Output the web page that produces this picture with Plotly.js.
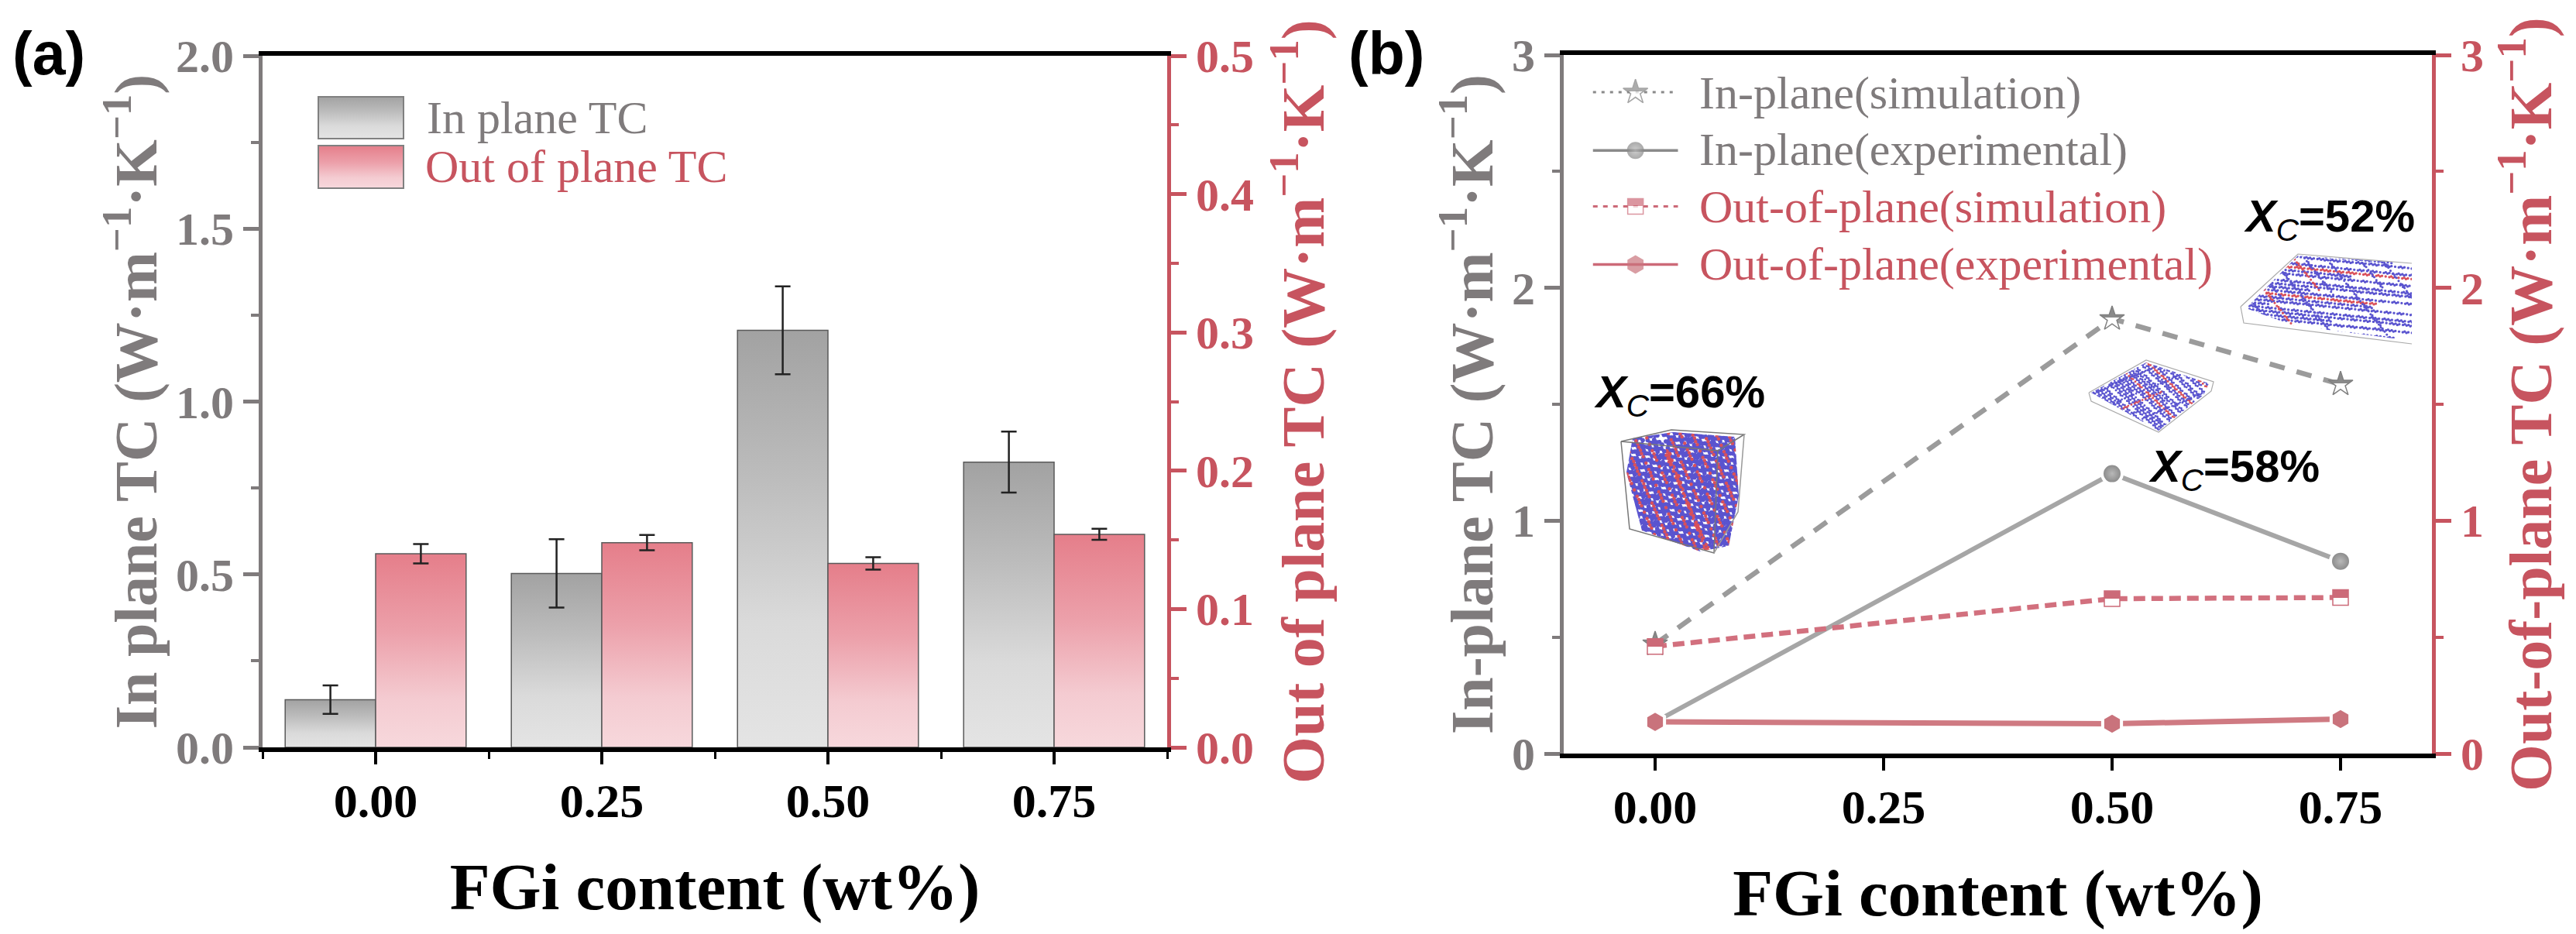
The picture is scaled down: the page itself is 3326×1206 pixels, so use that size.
<!DOCTYPE html>
<html>
<head>
<meta charset="utf-8">
<script src="https://cdn.plot.ly/plotly-3.0.1.min.js"></script>
<style>
html, body { margin: 0; padding: 0; background: #fff; }
</style>
</head>
<body>
<div id="myDiv" style="width:3326px;height:1206px;"></div>
<script>
// panel (a)
var barX = [0, 0.25, 0.5, 0.75];
var inPlane = [0.138, 0.503, 1.206, 0.825];
var inPlaneErr = [0.041, 0.099, 0.127, 0.088];
var outPlane = [0.14, 0.148, 0.133, 0.154];
var outPlaneErr = [0.007, 0.0055, 0.0045, 0.004];

// panel (b)
var lineX = [0, 0.5, 0.75];
var inSim = [0.47, 1.867, 1.586];
var inExp = [0.136, 1.202, 0.826];
var outSim = [0.46, 0.665, 0.67];
var outExp = [0.136, 0.128, 0.148];

// legend keys of panel (b), in the axis units of that panel
var keyX = [-0.068, -0.0215, 0.025];
var keyY = [2.84, 2.59, 2.35, 2.10];
var keyNames = ['In-plane(simulation)', 'In-plane(experimental)',
                'Out-of-plane(simulation)', 'Out-of-plane(experimental)'];

var W = 3326, H = 1206;
var GREY = '#7f7b7c', RED = '#c7545f', SERIF = 'Liberation Serif', SANS = 'Liberation Sans';

function px(x) { return x / W; }
function py(y) { return 1 - y / H; }

var unit = ' (W·m<sup>−1</sup>·K<sup>−1</sup>)';

var trace1 = {
    type: 'bar', name: 'barGrey', x: barX, y: inPlane, xaxis: 'x', yaxis: 'y',
    width: 0.1, offset: -0.1, showlegend: false,
    marker: { color: '#c8c8c8', line: { color: '#5a5a5a', width: 1.5 } },
    error_y: { type: 'data', array: inPlaneErr, color: '#222', thickness: 2.5, width: 10 }
};
var trace2 = {
    type: 'bar', name: 'barRed', x: barX, y: outPlane, xaxis: 'x', yaxis: 'y2',
    width: 0.1, offset: 0, showlegend: false,
    marker: { color: '#eda8b0', line: { color: '#5a5a5a', width: 1.5 } },
    error_y: { type: 'data', array: outPlaneErr, color: '#222', thickness: 2.5, width: 10 }
};

var starMarker = { symbol: 'star', color: '#888', line: { color: '#808080', width: 1.5 } };
var ballMarker = { symbol: 'circle', color: '#a0a0a0', line: { color: '#fff', width: 4 } };
var squareMarker = { symbol: 'square', color: '#cc6a78', line: { color: '#cc6a78', width: 1.5 } };
var hexMarker = { symbol: 'hexagon', color: '#c9737c', line: { color: '#fff', width: 4 } };

function lineTrace(name, y, axis, color, width, dash, marker, size) {
    return {
        type: 'scatter', mode: 'lines+markers', name: name, x: lineX, y: y,
        xaxis: 'x3', yaxis: axis, showlegend: false,
        line: { color: color, width: width, dash: dash },
        marker: Object.assign({}, marker, { size: size })
    };
}

function keyTrace(name, y, color, width, dash, marker, size) {
    var m = Object.assign({}, marker, { size: [0, size, 0], line: { color: marker.line.color, width: 0 } });
    if (name == 'keyStar' || name == 'keySquare') m.line = marker.line;
    return {
        type: 'scatter', mode: 'lines+markers', name: name, x: keyX, y: [y, y, y],
        xaxis: 'x3', yaxis: 'y3', showlegend: false,
        line: { color: color, width: width, dash: dash }, marker: m
    };
}

var data = [
    trace1, trace2,
    lineTrace('inSim', inSim, 'y3', '#9b9b9b', 6.5, '20px,16px', starMarker, 24),
    lineTrace('inExp', inExp, 'y3', '#a6a6a6', 6, 'solid', ballMarker, 26),
    lineTrace('outSim', outSim, 'y4', '#d2707e', 6.5, '15px,8px', squareMarker, 20),
    lineTrace('outExp', outExp, 'y4', '#cf7a82', 7, 'solid', hexMarker, 28),
    keyTrace('keyStar', keyY[0], '#8a8a8a', 3, '4px,7px', starMarker, 24),
    keyTrace('keyBall', keyY[1], '#8a8a8a', 3.5, 'solid', ballMarker, 22),
    keyTrace('keySquare', keyY[2], '#cc6a78', 3, '6px,7px', squareMarker, 20),
    keyTrace('keyHex', keyY[3], '#cc6a78', 3.5, 'solid', hexMarker, 24)
];

function xAxis(domain, anchor, range, minor) {
    var ax = {
        domain: domain, anchor: anchor, range: range, tickvals: [0, 0.25, 0.5, 0.75],
        tickformat: '.2f',
        showline: true, mirror: true, linecolor: '#000', linewidth: 6, zeroline: false, showgrid: false,
        ticks: 'outside', ticklen: 16, tickwidth: 4, tickcolor: '#000', ticklabelstandoff: -6,
        tickfont: { family: SERIF, size: 62, color: '#000', weight: 'bold' },
        title: { text: '<b>FGi content (wt%)</b>', font: { family: SERIF, size: 85, color: '#000' }, standoff: 49 }
    };
    if (minor) ax.minor = { dtick: 0.125, tick0: 0, ticks: 'outside', ticklen: 9, tickwidth: 3, tickcolor: '#000' };
    return ax;
}

function yAxis(opts) {
    var ax = {
        domain: opts.domain, anchor: opts.anchor, range: opts.range, side: opts.side,
        tickvals: opts.tickvals, tickformat: opts.tickformat,
        showline: true, linecolor: opts.color, linewidth: 5, zeroline: false, showgrid: false,
        ticks: 'outside', ticklen: 20, tickwidth: 5, tickcolor: opts.color,
        tickfont: { family: SERIF, size: 60, color: opts.color, weight: 'bold' },
        minor: { dtick: opts.minorStep, tick0: opts.minorStart, ticks: 'outside', ticklen: 10, tickwidth: 4, tickcolor: opts.color },
        title: { text: '<b>' + opts.title + '</b>', font: { family: SERIF, size: 78, color: opts.color }, standoff: opts.standoff }
    };
    if (opts.overlaying) ax.overlaying = opts.overlaying;
    return ax;
}

var domA = [px(339), px(1507)], domAy = [py(965), py(72)];
var domB = [px(2019), px(3140)], domBy = [py(973), py(71)];

var annotations = [
    { text: '<b>(a)</b>', x: px(63), y: py(69), font: { family: SANS, size: 77, color: '#000' } },
    { text: '<b>(b)</b>', x: px(1790), y: py(69), font: { family: SANS, size: 77, color: '#000' } },
    { text: 'In plane TC', x: px(550), y: py(152), xanchor: 'left', font: { family: SERIF, size: 60, color: GREY } },
    { text: 'Out of plane TC', x: px(548), y: py(215), xanchor: 'left', font: { family: SERIF, size: 60, color: RED } },
    { text: '<b><i>X</i></b><sub><i>C</i></sub><b>=66%</b>', x: px(2168), y: py(510), font: { family: SANS, size: 58, color: '#000' } },
    { text: '<b><i>X</i></b><sub><i>C</i></sub><b>=58%</b>', x: px(2884), y: py(606), font: { family: SANS, size: 58, color: '#000' } },
    { text: '<b><i>X</i></b><sub><i>C</i></sub><b>=52%</b>', x: px(3007), y: py(283), font: { family: SANS, size: 58, color: '#000' } }
];
keyNames.forEach(function (name, i) {
    annotations.push({
        text: name, x: px(2193), y: py([120, 193, 267, 341][i]), xanchor: 'left',
        font: { family: SERIF, size: 60, color: i < 2 ? GREY : RED }
    });
});
annotations.forEach(function (a) {
    a.xref = 'paper'; a.yref = 'paper'; a.showarrow = false; a.borderpad = 0;
    a.xanchor = a.xanchor || 'center'; a.yanchor = 'middle';
});

// paper-referenced shape from pixel points
function poly(points, fill, stroke, width) {
    var d = points.map(function (p, i) {
        return (i ? 'L' : 'M') + px(p[0]) + ',' + py(p[1]);
    }).join(' ');
    return {
        type: 'path', xref: 'paper', yref: 'paper', path: d + (fill ? ' Z' : ''),
        fillcolor: fill || 'rgba(0,0,0,0)', line: { color: stroke || 'rgba(0,0,0,0)', width: width || 0 }
    };
}

var shapes = [
    poly([[411, 125], [521, 125], [521, 179], [411, 179]], '#c8c8c8', '#808080', 2),
    poly([[411, 188], [521, 188], [521, 243], [411, 243]], '#eda8b0', '#808080', 2),
    // wire boxes of the three small atom pictures
    poly([[2093, 570], [2218, 582], [2213, 714], [2104, 683], [2093, 570]], null, '#777', 1.5),
    poly([[2093, 570], [2158, 555], [2252, 561], [2218, 582]], null, '#777', 1.5),
    poly([[2252, 561], [2244, 661], [2213, 714]], null, '#999', 1.5),
    poly([[2697, 507], [2771, 465], [2858, 493], [2855, 505], [2787, 558], [2700, 518], [2697, 507]], null, '#aaa', 1.2),
    poly([[2893, 396], [2967, 328], [3114, 340]], null, '#aaa', 1.2),
    poly([[2893, 396], [2897, 417], [3114, 444]], null, '#aaa', 1.2)
];

// The small atom pictures are decoration, not data: chains of blue and red beads on a canvas
function beadPicture(box, clip, families) {
    var scale = 2;
    var c = document.createElement('canvas');
    c.width = (box[2] - box[0]) * scale;
    c.height = (box[3] - box[1]) * scale;
    var ctx = c.getContext('2d');
    ctx.scale(scale, scale);
    ctx.translate(-box[0], -box[1]);
    ctx.beginPath();
    clip.forEach(function (p, i) { if (i) ctx.lineTo(p[0], p[1]); else ctx.moveTo(p[0], p[1]); });
    ctx.closePath();
    ctx.clip();
    var cx = (box[0] + box[2]) / 2, cy = (box[1] + box[3]) / 2;
    var reach = Math.max(box[2] - box[0], box[3] - box[1]);
    families.forEach(function (f) {
        var ux = Math.cos(f.angle), uy = Math.sin(f.angle);
        var n = Math.ceil(reach / f.gap);
        for (var i = -n; i <= n; i++) {
            var ox = cx - uy * i * f.gap, oy = cy + ux * i * f.gap;
            // golden ratio steps give an irregular look that stays the same every run
            var start = -reach * (0.35 + ((i * 0.618) % 1 + 1) % 1);
            var len = reach * (0.5 + ((i * 0.382) % 1 + 1) % 1 * 1.2) * f.fillLen;
            for (var t = start; t < start + len; t += f.step) {
                var k = Math.round(t / f.step);
                var h = ((i * 0.7548 + k * 0.5698) % 1 + 1) % 1;
                if (h < f.skip) continue;
                var wob = (h - 0.5) * f.wobble;
                ctx.fillStyle = (((i % f.redEvery) + f.redEvery) % f.redEvery == 0) ? '#d9505a' : '#5a54cf';
                ctx.beginPath();
                ctx.arc(ox + ux * t - uy * wob, oy + uy * t + ux * wob, f.r, 0, 7);
                ctx.fill();
            }
        }
    });
    return {
        source: c.toDataURL('image/png'), xref: 'paper', yref: 'paper',
        x: px(box[0]), y: py(box[1]), sizex: (box[2] - box[0]) / W, sizey: (box[3] - box[1]) / H,
        xanchor: 'left', yanchor: 'top', sizing: 'stretch', layer: 'above'
    };
}

var images = [
    beadPicture([2093, 555, 2252, 714],
        [[2108, 566], [2160, 558], [2240, 564], [2245, 640], [2232, 705], [2195, 712], [2120, 685], [2100, 610]],
        [{ angle: 1.2, gap: 4.2, step: 4.4, r: 2.9, skip: 0.14, wobble: 5, redEvery: 99, fillLen: 3 },
         { angle: 1.15, gap: 14, step: 4.5, r: 2.2, skip: 0.25, wobble: 1, redEvery: 1, fillLen: 3 }]),
    beadPicture([2697, 465, 2858, 558],
        [[2700, 507], [2771, 468], [2852, 495], [2845, 510], [2787, 556]],
        [{ angle: 0.75, gap: 3.6, step: 2.2, r: 1.4, skip: 0.18, wobble: 2.5, redEvery: 8, fillLen: 1.6 },
         { angle: -0.4, gap: 11, step: 2.2, r: 1.3, skip: 0.3, wobble: 2, redEvery: 5, fillLen: 0.9 }]),
    beadPicture([2893, 328, 3114, 444],
        [[2900, 398], [2967, 330], [3114, 340], [3114, 440], [2960, 420]],
        [{ angle: 0.1, gap: 4.6, step: 2.4, r: 1.6, skip: 0.22, wobble: 2.5, redEvery: 8, fillLen: 1.3 },
         { angle: 0.9, gap: 11, step: 2.4, r: 1.5, skip: 0.25, wobble: 2, redEvery: 5, fillLen: 0.6 }])
];

var layout = {
    width: W, height: H, margin: { l: 0, r: 0, t: 0, b: 0 }, autosize: false,
    paper_bgcolor: '#fff', plot_bgcolor: 'rgba(0,0,0,0)', showlegend: false, barmode: 'overlay',
    xaxis: xAxis(domA, 'y', [-0.125, 0.875], true),
    yaxis: yAxis({ domain: domAy, anchor: 'x', range: [0, 2], side: 'left', color: GREY,
        tickvals: [0, 0.5, 1, 1.5, 2], tickformat: '.1f',
        minorStep: 0.5, minorStart: 0.25, title: 'In plane TC' + unit, standoff: 0 }),
    yaxis2: yAxis({ domain: domAy, anchor: 'x', range: [0, 0.5], side: 'right', color: RED, overlaying: 'y',
        tickvals: [0, 0.1, 0.2, 0.3, 0.4, 0.5], tickformat: '.1f',
        minorStep: 0.1, minorStart: 0.05, title: 'Out of plane TC' + unit, standoff: 38 }),
    xaxis3: xAxis(domB, 'y3', [-0.1, 0.85], false),
    yaxis3: yAxis({ domain: domBy, anchor: 'x3', range: [0, 3], side: 'left', color: GREY,
        tickvals: [0, 1, 2, 3], tickformat: 'd',
        minorStep: 1, minorStart: 0.5, title: 'In-plane TC' + unit, standoff: 0 }),
    yaxis4: yAxis({ domain: domBy, anchor: 'x3', range: [0, 3], side: 'right', color: RED, overlaying: 'y3',
        tickvals: [0, 1, 2, 3], tickformat: 'd',
        minorStep: 1, minorStart: 0.5, title: 'Out-of-plane TC' + unit, standoff: 35 }),
    annotations: annotations,
    shapes: shapes,
    images: images
};

// Plotly has no gradient fill for bars or half-filled markers, so add them to the svg afterwards
function addGradient(defs, id, stops, radial) {
    var ns = 'http://www.w3.org/2000/svg';
    var g = document.createElementNS(ns, radial ? 'radialGradient' : 'linearGradient');
    g.setAttribute('id', id);
    if (!radial) { g.setAttribute('x1', '0'); g.setAttribute('y1', '0'); g.setAttribute('x2', '0'); g.setAttribute('y2', '1'); }
    stops.forEach(function (s) {
        var st = document.createElementNS(ns, 'stop');
        st.setAttribute('offset', s[0]);
        st.setAttribute('stop-color', s[1]);
        g.appendChild(st);
    });
    defs.appendChild(g);
}

var fills = {
    barGrey: 'url(#gGrey)', barRed: 'url(#gRed)',
    inSim: 'url(#hStar)', keyStar: 'url(#hStar)',
    outSim: 'url(#hSquare)', keySquare: 'url(#hSquare)',
    inExp: 'url(#ball)', keyBall: 'url(#ball)'
};

Plotly.newPlot('myDiv', data, layout, { displayModeBar: false, staticPlot: true }).then(function (gd) {
    var svg = gd.querySelector('.main-svg');
    var defs = document.createElementNS('http://www.w3.org/2000/svg', 'defs');
    svg.insertBefore(defs, svg.firstChild);
    addGradient(defs, 'gGrey', [[0, '#a2a2a2'], [0.35, '#bcbcbc'], [0.7, '#dadada'], [1, '#e4e4e4']]);
    addGradient(defs, 'gRed', [[0, '#e57e8a'], [0.4, '#eca0aa'], [0.75, '#f4cbd1'], [1, '#f7d8dc']]);
    addGradient(defs, 'hStar', [[0, '#8a8a8a'], [0.5, '#8a8a8a'], [0.5, '#fff'], [1, '#fff']]);
    addGradient(defs, 'hSquare', [[0, '#cc6a78'], [0.5, '#cc6a78'], [0.5, '#fff'], [1, '#fff']]);
    addGradient(defs, 'ball', [[0, '#b8b8b8'], [1, '#858585']], true);

    gd.querySelectorAll('.barlayer .trace, .scatterlayer .trace').forEach(function (el) {
        var fill = fills[el.__data__[0].trace.name];
        if (!fill) return;
        el.querySelectorAll('.point').forEach(function (p) {
            var path = p.tagName == 'path' ? p : p.querySelector('path');
            if (path) path.style.fill = fill;
        });
    });

    var s0 = gd.querySelector('.shapelayer path[data-index="0"]');
    var s1 = gd.querySelector('.shapelayer path[data-index="1"]');
    if (s0) s0.style.fill = 'url(#gGrey)';
    if (s1) s1.style.fill = 'url(#gRed)';
});
</script>
</body>
</html>
